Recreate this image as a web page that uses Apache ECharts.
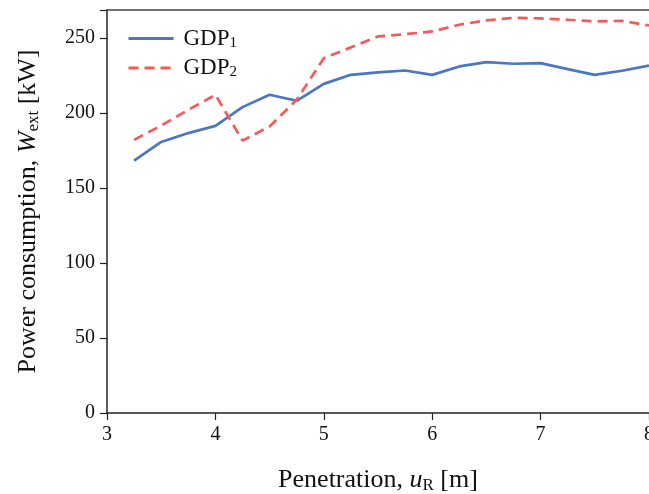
<!DOCTYPE html>
<html><head><meta charset="utf-8">
<script src="https://cdn.jsdelivr.net/npm/echarts@6/dist/echarts.min.js"></script>
<style>html,body{margin:0;padding:0;background:#fff}#c{width:649px;height:494px}</style>
</head><body><div id="c"></div>
<script>
const penetration = [3.25,3.5,3.75,4.0,4.25,4.5,4.75,5.0,5.25,5.5,5.75,6.0,6.25,6.5,6.75,7.0,7.25,7.5,7.75,8.0];
const gdp1 = [168.2,180.6,186.5,191.3,203.8,212.0,208.0,219.3,225.3,226.9,228.2,225.3,230.9,233.8,232.7,233.1,229.1,225.3,228.0,231.5];
const gdp2 = [182.0,191.5,202.0,212.0,181.5,190.9,208.7,236.4,243.6,250.9,252.4,254.2,258.7,261.6,263.3,262.9,262.0,260.9,261.3,258.2];
const seriesNames = ['GDP1','GDP2'];
const seriesSubs = {GDP1:'1', GDP2:'2'};
const xTicks = [3,4,5,6,7,8];

const font = "'Liberation Serif', 'DejaVu Serif', serif";
const chart = echarts.init(document.getElementById('c'), null, {renderer:'canvas'});
chart.setOption({
  animation:false,
  backgroundColor:'#fff',
  grid:{left:107,right:0,top:10,bottom:81,containLabel:false,outerBoundsMode:'none'},
  legend:{
    orient:'vertical', left:122, top:22, itemWidth:45, itemHeight:14, itemGap:6,
    data:seriesNames,
    itemStyle:{opacity:0, borderWidth:0},
    lineStyle:{width:3},
    formatter: n => '{b|GDP}{s|' + seriesSubs[n] + '}',
    textStyle:{fontFamily:font, fontSize:23, color:'#111', padding:[0,0,0,5],
      rich:{b:{fontFamily:font,fontSize:23,color:'#111'},
            s:{fontFamily:font,fontSize:15,color:'#111',padding:[9,0,0,0]}}}
  },
  xAxis:[{
    type:'value', min:xTicks[0], max:xTicks[xTicks.length-1], interval:1,
    name:'{t|Penetration, }{i|u}{s|R}{t| [m]}', nameLocation:'middle', nameGap:54,
    nameTextStyle:{fontFamily:font,fontSize:26,color:'#111',
      rich:{t:{fontFamily:font,fontSize:26,color:'#111'},
            i:{fontFamily:font,fontSize:26,fontStyle:'italic',color:'#111'},
            s:{fontFamily:font,fontSize:17,color:'#111',padding:[10,0,0,0]}}},
    axisLine:{show:true,lineStyle:{color:'#222',width:1.5}},
    axisTick:{show:true,inside:false,length:7,lineStyle:{color:'#222',width:1.2}},
    axisLabel:{fontFamily:font,fontSize:20,color:'#111',margin:12},
    splitLine:{show:false}
  },{
    type:'value', position:'top', min:3, max:8, interval:1,
    axisLine:{show:true,onZero:false,lineStyle:{color:'#444',width:1.5}},
    axisTick:{show:false}, axisLabel:{show:false}, splitLine:{show:false}
  }],
  yAxis:{
    type:'value', min:0, max:268.5, interval:50,
    name:'{t|Power consumption, }{i|W}{s|ext}{t| [kW]}', nameLocation:'middle', nameGap:65,
    nameTextStyle:{fontFamily:font,fontSize:26,color:'#111',
      rich:{t:{fontFamily:font,fontSize:26,color:'#111'},
            i:{fontFamily:font,fontSize:26,fontStyle:'italic',color:'#111'},
            s:{fontFamily:font,fontSize:17,color:'#111',padding:[10,0,0,0]}}},
    axisLine:{show:true,lineStyle:{color:'#222',width:1.5}},
    axisTick:{show:true,inside:false,length:7,lineStyle:{color:'#222',width:1.2}},
    axisLabel:{fontFamily:font,fontSize:20,color:'#111',margin:12,
      formatter:v => (v % 50 === 0 ? String(v) : '')},
    splitLine:{show:false}
  },
  series:[
    {name:'GDP1', type:'line', symbol:'none', data:penetration.map((x,i)=>[x,gdp1[i]]),
     lineStyle:{color:'#4a76c2',width:2.7}, itemStyle:{color:'#4a76c2'}},
    {name:'GDP2', type:'line', symbol:'none', data:penetration.map((x,i)=>[x,gdp2[i]]),
     lineStyle:{color:'#f45a5a',width:2.7,type:[10,6]}, itemStyle:{color:'#f45a5a'}}
  ]
});
</script></body></html>
